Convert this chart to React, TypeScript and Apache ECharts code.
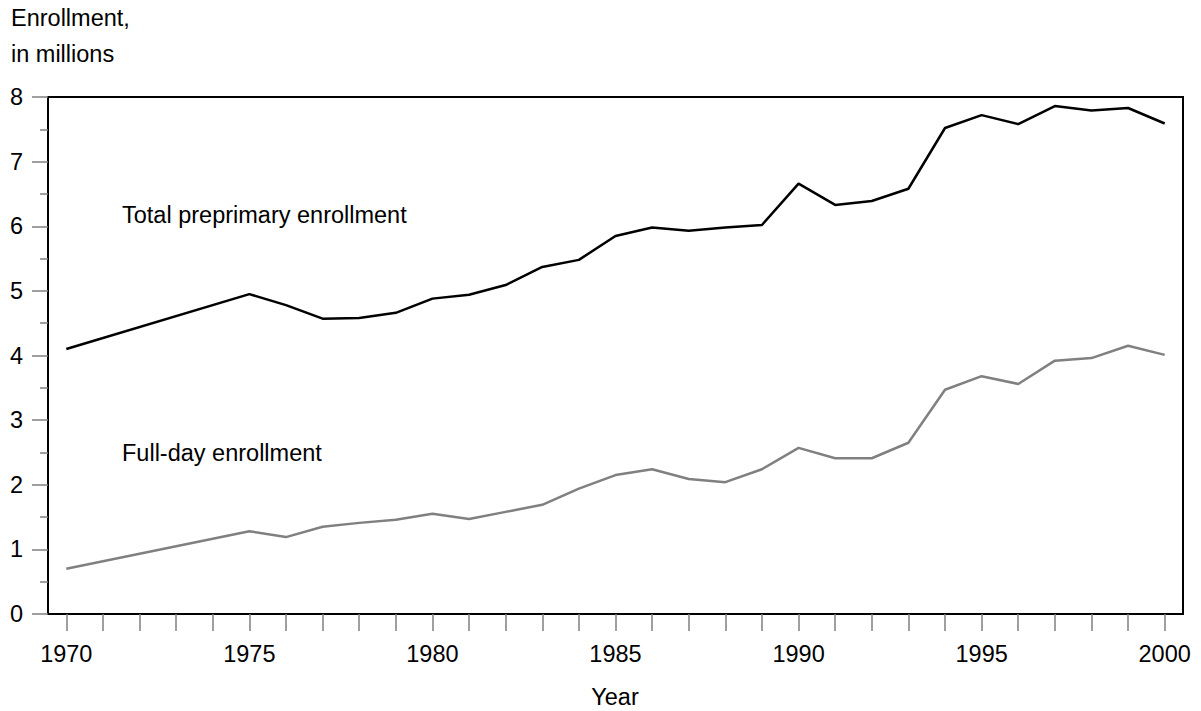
import React, { useEffect, useRef } from "react";
import * as echarts from "echarts";

const years: string[] = [];
for (let y = 1970; y <= 2000; y++) years.push(String(y));

// values in millions; 1971-1974 not reported (line drawn straight across)
const totalEnrollment: (number | null)[] = [
  4.10, null, null, null, null, 4.95, 4.78, 4.57, 4.58, 4.66,
  4.88, 4.94, 5.09, 5.37, 5.48, 5.85, 5.98, 5.93, 5.98, 6.02,
  6.66, 6.33, 6.39, 6.58, 7.52, 7.72, 7.58, 7.86, 7.79, 7.83,
  7.59,
];
const fullDayEnrollment: (number | null)[] = [
  0.70, null, null, null, null, 1.28, 1.19, 1.35, 1.41, 1.46,
  1.55, 1.47, 1.58, 1.69, 1.94, 2.15, 2.24, 2.09, 2.04, 2.24,
  2.57, 2.41, 2.41, 2.65, 3.47, 3.68, 3.56, 3.92, 3.96, 4.15,
  4.01,
];
const seriesLabels = ["Total preprimary enrollment", "Full-day enrollment"];
const yTitleLines = ["Enrollment,", "in millions"];
const xTitle = "Year";

const FONT = "'Liberation Sans', Arial, Helvetica, sans-serif";
const FS = 23.5;

export default function App() {
  const ref = useRef<HTMLDivElement>(null);
  useEffect(() => {
    if (!ref.current) return;
    const chart = echarts.init(ref.current, undefined, { renderer: "svg" });
    chart.setOption({
      animation: false,
      backgroundColor: "#fff",
      textStyle: { fontFamily: FONT },
      grid: {
        left: 48,
        right: 18,
        top: 97,
        bottom: 97,
        show: true,
        borderColor: "#000",
        borderWidth: 2,
        containLabel: false,
      },
      xAxis: {
        type: "category",
        data: years,
        boundaryGap: true,
        axisLine: { show: false },
        axisTick: {
          show: true,
          alignWithLabel: true,
          interval: 0,
          length: 17,
          lineStyle: { color: "#7f7f7f", width: 1.5 },
        },
        axisLabel: {
          interval: (i: number, v: string) => Number(v) % 5 === 0,
          margin: 28,
          color: "#000",
          fontSize: FS,
          fontFamily: FONT,
        },
        splitLine: { show: false },
      },
      yAxis: {
        type: "value",
        min: 0,
        max: 8,
        interval: 1,
        axisLine: { show: false },
        axisTick: {
          show: true,
          length: 16,
          lineStyle: { color: "#7f7f7f", width: 1.5 },
        },
        minorTick: {
          show: true,
          splitNumber: 2,
          length: 8,
          lineStyle: { color: "#7f7f7f", width: 1.5 },
        },
        axisLabel: {
          margin: 25,
          color: "#000",
          fontSize: FS,
          fontFamily: FONT,
        },
        splitLine: { show: false },
        minorSplitLine: { show: false },
      },
      series: [
        {
          name: seriesLabels[0],
          type: "line",
          data: totalEnrollment,
          connectNulls: true,
          symbol: "none",
          lineStyle: { color: "#000", width: 2.5 },
          z: 3,
        },
        {
          name: seriesLabels[1],
          type: "line",
          data: fullDayEnrollment,
          connectNulls: true,
          symbol: "none",
          lineStyle: { color: "#808080", width: 2.5 },
          z: 2,
        },
      ],
      graphic: [
        {
          type: "text",
          left: 11,
          top: 6,
          style: { text: yTitleLines[0], fontSize: FS, fontFamily: FONT, fill: "#000" },
        },
        {
          type: "text",
          left: 11,
          top: 42,
          style: { text: yTitleLines[1], fontSize: FS, fontFamily: FONT, fill: "#000" },
        },
        {
          type: "text",
          left: 122,
          top: 203,
          style: { text: seriesLabels[0], fontSize: FS, fontFamily: FONT, fill: "#000" },
        },
        {
          type: "text",
          left: 122,
          top: 441,
          style: { text: seriesLabels[1], fontSize: FS, fontFamily: FONT, fill: "#000" },
        },
        {
          type: "text",
          x: 615,
          y: 685,
          style: {
            text: xTitle,
            fontSize: FS,
            fontFamily: FONT,
            fill: "#000",
            align: "center",
            verticalAlign: "top",
          },
        },
      ],
    });
    return () => chart.dispose();
  }, []);
  return (
    <div
      ref={ref}
      style={{ position: "absolute", left: 0, top: 0, width: 1201, height: 711 }}
    />
  );
}
